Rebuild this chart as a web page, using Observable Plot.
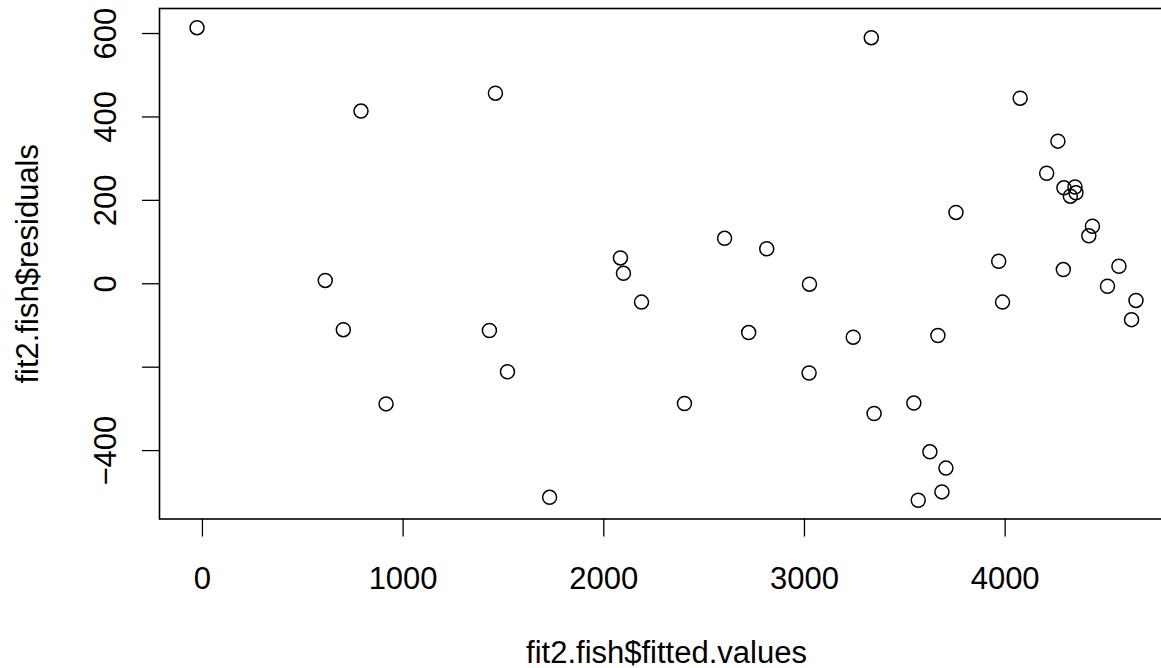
<!DOCTYPE html>
<html><head><meta charset="utf-8">
<script src="https://cdn.jsdelivr.net/npm/d3@7"></script>
<script src="https://cdn.jsdelivr.net/npm/@observablehq/plot@0.6"></script>
<style>
html,body{margin:0;padding:0;background:#fff;overflow:hidden;width:1161px;height:668px}
#chart svg{max-width:none !important;display:block}
</style>
</head><body><div id="chart"></div>
<script>
const fitted = [-27, 612, 702, 790, 915, 1430, 1460, 1520, 1730, 2083, 2098, 2188, 2402, 2602, 2722, 2812, 3023, 3025, 3243, 3333, 3347, 3545, 3567, 3625, 3665, 3685, 3705, 3755, 3968, 3987, 4075, 4207, 4263, 4290, 4293, 4325, 4348, 4353, 4417, 4435, 4510, 4567, 4630, 4652];
const residuals = [614, 8, -110, 414, -288, -112, 457, -211, -512, 62, 25, -44, -287, 109, -117, 84, -214, -1, -128, 590, -311, -286, -519, -403, -124, -499, -442, 171, 54, -44, 445, 265, 342, 34, 230, 210, 232, 218, 115, 138, -6, 42, -86, -40];
const xTicks = [0, 1000, 2000, 3000, 4000];
const yTicks = [-400, -200, 0, 200, 400, 600];
const yTickLabels = [-400, 0, 200, 400, 600];
const xTitle = "fit2.fish$fitted.values";
const yTitle = "fit2.fish$residuals";

const points = fitted.map((x, i) => ({x, y: residuals[i]}));
const fmt = d => d < 0 ? "\u2212" + Math.abs(d) : String(d);

const chart = Plot.plot({
  width: 1175, height: 668,
  marginLeft: 159, marginRight: 2, marginTop: 8, marginBottom: 149.5,
  style: {fontFamily: '"Liberation Sans", Arial, Helvetica, sans-serif', fontSize: "31px", color: "#000", background: "#fff", maxWidth: "none"},
  x: {domain: [-214, 4839]},
  y: {domain: [-564, 660]},
  marks: [
    Plot.frame({stroke: "#000", strokeWidth: 1.6}),
    Plot.axisX(xTicks, {tickSize: 18, tickPadding: 29.5, tickFormat: fmt, label: null, strokeWidth: 1.3}),
    Plot.axisY(yTicks, {tickSize: 17, tickFormat: () => "", label: null, strokeWidth: 1.3}),
    Plot.text(yTickLabels, {y: d => d, text: fmt, frameAnchor: "left", dx: -44, rotate: -90, lineAnchor: "bottom", textAnchor: "middle", fill: "#000"}),
    Plot.text([xTitle], {text: d => d, frameAnchor: "bottom", dy: 143.5, lineAnchor: "bottom", fill: "#000"}),
    Plot.text([yTitle], {text: d => d, frameAnchor: "left", dx: -122, rotate: -90, lineAnchor: "bottom", textAnchor: "middle", fill: "#000"}),
    Plot.dot(points, {x: "x", y: "y", r: 7, stroke: "#000", strokeWidth: 1.5, fill: "none"})
  ]
});
document.getElementById("chart").appendChild(chart);
</script>
</body></html>
